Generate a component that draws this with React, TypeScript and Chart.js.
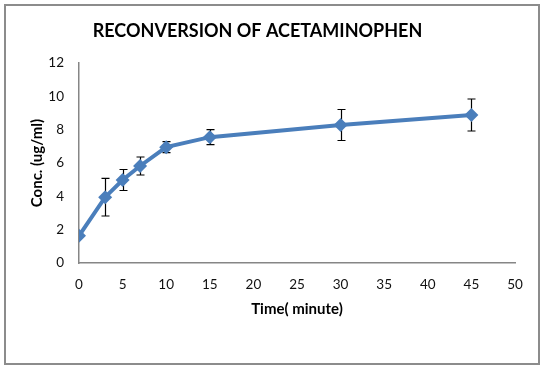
import { useEffect, useRef } from "react";
import { Chart, registerables } from "chart.js";

Chart.register(...registerables);

const chartTitle = "RECONVERSION OF ACETAMINOPHEN";
const xTitle = "Time( minute)";
const yTitle = "Conc. (ug/ml)";
const timeMin = [0, 3, 5, 7, 10, 15, 30, 45];
const conc = [1.63, 3.95, 4.98, 5.82, 6.95, 7.55, 8.28, 8.88];
const concErr = [0, 1.13, 0.63, 0.54, 0.33, 0.45, 0.93, 0.96];

const FONT = "Lato, 'Open Sans', sans-serif";
const LINE = "#4A7EBB";

export default function App() {
  const ref = useRef<HTMLCanvasElement>(null);

  useEffect(() => {
    if (!ref.current) return;
    const errorBars = {
      id: "errorBars",
      beforeDatasetsDraw(chart: any) {
        const ctx = chart.ctx;
        const xs = chart.scales.x;
        const ys = chart.scales.y;
        ctx.save();
        ctx.strokeStyle = "#000";
        ctx.lineWidth = 1.2;
        timeMin.forEach((t, i) => {
          const e = concErr[i];
          if (!e) return;
          const px = Math.round(xs.getPixelForValue(t)) + 0.5;
          const top = ys.getPixelForValue(conc[i] + e);
          const bot = ys.getPixelForValue(conc[i] - e);
          ctx.beginPath();
          ctx.moveTo(px, top);
          ctx.lineTo(px, bot);
          ctx.moveTo(px - 4, top);
          ctx.lineTo(px + 4, top);
          ctx.moveTo(px - 4, bot);
          ctx.lineTo(px + 4, bot);
          ctx.stroke();
        });
        ctx.restore();
      },
    };

    const chart = new Chart(ref.current, {
      type: "line",
      data: {
        datasets: [
          {
            data: timeMin.map((t, i) => ({ x: t, y: conc[i] })),
            borderColor: LINE,
            backgroundColor: LINE,
            borderWidth: 4,
            pointStyle: "rectRot",
            pointRadius: 7,
            pointBorderWidth: 0,
            pointBackgroundColor: LINE,
            tension: 0,
          },
        ],
      },
      options: {
        responsive: false,
        animation: false,
        devicePixelRatio: 1,
        layout: { padding: { left: 0, right: 30, top: 0, bottom: 0 } },
        plugins: {
          legend: { display: false },
          tooltip: { enabled: false },
          title: {
            display: true,
            text: chartTitle,
            color: "#000",
            font: { family: FONT, size: 18, weight: "bold", lineHeight: 1.2 },
            padding: { top: 20, bottom: 21.4 },
          },
        },
        scales: {
          x: {
            type: "linear",
            min: 0,
            max: 50,
            ticks: {
              stepSize: 5,
              color: "#111",
              padding: 14,
              maxRotation: 0,
              font: { family: FONT, size: 13.5 },
            },
            grid: { display: true, drawOnChartArea: false, drawTicks: false },
            border: { display: true, color: "#868686", width: 1.5 },
            title: {
              display: true,
              text: xTitle,
              color: "#000",
              font: { family: FONT, size: 15, weight: "bold", lineHeight: 1.2 },
              padding: { top: 0, bottom: 52 },
            },
            afterFit(scale: any) {
              scale.height = 107;
            },
          },
          y: {
            min: 0,
            max: 12,
            ticks: {
              stepSize: 2,
              color: "#111",
              padding: 15,
              font: { family: FONT, size: 13.5 },
            },
            grid: { display: true, drawOnChartArea: false, drawTicks: false },
            border: { display: true, color: "#868686", width: 1.5 },
            title: {
              display: true,
              text: yTitle,
              color: "#000",
              font: { family: FONT, size: 15, weight: "bold", lineHeight: 1.2 },
              padding: { top: 28, bottom: 0 },
            },
            afterFit(scale: any) {
              scale.width = 79;
            },
          },
        },
      },
      plugins: [errorBars],
    } as any);

    return () => chart.destroy();
  }, []);

  return (
    <div
      style={{
        position: "fixed",
        left: 0,
        top: 0,
        width: 545,
        height: 370,
        background: "#fff",
      }}
    >
      <div
        style={{
          position: "absolute",
          left: 4,
          top: 4,
          width: 536,
          height: 361,
          boxSizing: "border-box",
          border: "2px solid #8c8c8c",
        }}
      />
      <canvas
        ref={ref}
        width={545}
        height={370}
        style={{ position: "absolute", left: 0, top: 0, width: 545, height: 370 }}
      />
    </div>
  );
}
